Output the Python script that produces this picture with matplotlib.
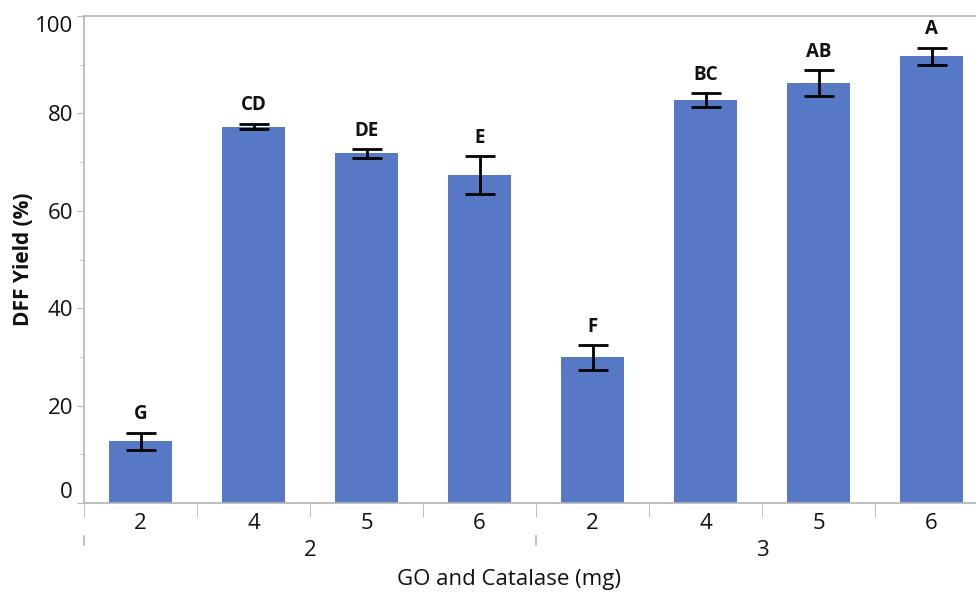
import matplotlib.pyplot as plt
from matplotlib.ticker import MultipleLocator, FixedLocator
import matplotlib.transforms as mtransforms

# DFF yield for each GO / catalase combination
go_levels = ['2', '3']
catalase_levels = ['2', '4', '5', '6', '2', '4', '5', '6']
yield_mean = [12.7, 77.3, 71.8, 67.3, 29.9, 82.7, 86.2, 91.7]
yield_err = [1.75, 0.6, 0.9, 3.85, 2.5, 1.4, 2.65, 1.8]
groups = ['G', 'CD', 'DE', 'E', 'F', 'BC', 'AB', 'A']

plt.rcParams['font.family'] = ['Open Sans', 'DejaVu Sans']
text_col = '#111111'
axis_col = '#b4b4b4'
bar_col = '#5778c4'

fig = plt.figure(figsize=(9.76, 5.94), dpi=100)
ax = fig.add_axes([84 / 976, 91 / 594, 904 / 976, 487 / 594])

x = list(range(len(yield_mean)))
ax.bar(x, yield_mean, width=0.566, color=bar_col, zorder=2)
ax.errorbar(x, yield_mean, yerr=yield_err, fmt='none', ecolor='black',
            elinewidth=2, capsize=10.8, capthick=2, zorder=3)

# significance letters above the error bars
for xi, m, e, g in zip(x, yield_mean, yield_err, groups):
    ax.annotate(g, (xi, m + e), xytext=(0, 6), textcoords='offset points',
                ha='center', va='bottom', fontsize=13.5, fontweight='bold',
                color=text_col)

ax.set_xlim(-0.5, 7.5)
ax.set_ylim(0, 100)

# y axis
ax.yaxis.set_major_locator(MultipleLocator(20))
ax.yaxis.set_minor_locator(MultipleLocator(10))
ax.tick_params(axis='y', which='major', length=5, color=axis_col,
               labelsize=16, labelcolor=text_col, pad=3)
ax.tick_params(axis='y', which='minor', length=3, color=axis_col)
fig.canvas.draw()
for lab in ax.get_yticklabels():
    if lab.get_text() == '0':
        lab.set_verticalalignment('bottom')
    elif lab.get_text() == '100':
        lab.set_verticalalignment('top')

# x axis: catalase level per bar, boundaries as ticks
ax.set_xticks(x)
ax.set_xticklabels(catalase_levels)
ax.xaxis.set_minor_locator(FixedLocator([i - 0.5 for i in range(9)]))
ax.tick_params(axis='x', which='major', length=0, labelsize=16,
               labelcolor=text_col, pad=7)
ax.tick_params(axis='x', which='minor', length=10, color=axis_col)

for side in ['left', 'bottom', 'top', 'right']:
    ax.spines[side].set_color(axis_col)
    ax.spines[side].set_linewidth(1.2)

# GO level as a second row of labels
trans = mtransforms.blended_transform_factory(ax.transData, ax.transAxes)
for bound in [-0.5, 3.5, 7.5]:
    ax.plot([bound, bound], [-0.068, -0.087], color=axis_col, lw=1.2,
            transform=trans, clip_on=False)
for i, lvl in enumerate(go_levels):
    ax.text(1.5 + 4 * i, -0.097, lvl, transform=trans, ha='center',
            va='center', fontsize=16, color=text_col)

ax.set_ylabel('DFF Yield (%)', fontsize=15, fontweight='bold', color=text_col)
ax.yaxis.set_label_coords(-0.055, 0.5)
ax.set_xlabel('GO and Catalase (mg)', fontsize=16, color=text_col)
ax.xaxis.set_label_coords(0.47, -0.158)
ax.xaxis.label.set_verticalalignment('center')

fig.savefig('out.png', dpi=100)
